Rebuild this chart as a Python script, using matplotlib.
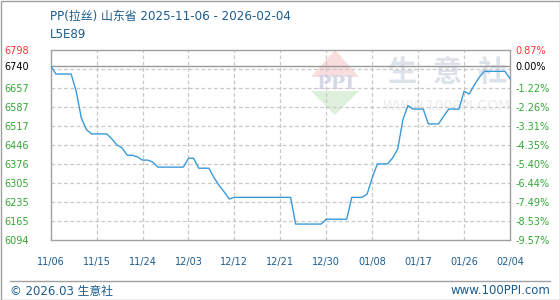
import matplotlib
matplotlib.use("Agg")
import matplotlib.pyplot as plt
import numpy as np
import pandas as pd
from matplotlib.patches import Polygon, Rectangle

# ---------------- data ----------------
start_date = "2025-11-06"
end_date = "2026-02-04"
prices = [6740, 6709, 6709, 6709, 6709, 6645, 6546, 6503, 6487, 6487,
          6487, 6487, 6468, 6446, 6435, 6408, 6408, 6402, 6390, 6390,
          6383, 6364, 6364, 6364, 6364, 6364, 6364, 6397, 6397, 6360,
          6360, 6360, 6325, 6296, 6272, 6246, 6252, 6252, 6252, 6252,
          6252, 6252, 6252, 6252, 6252, 6252, 6252, 6252, 6153, 6153,
          6153, 6153, 6153, 6153, 6171, 6171, 6171, 6171, 6171, 6252,
          6252, 6252, 6264, 6324, 6376, 6376, 6376, 6398, 6431, 6539,
          6592, 6579, 6579, 6579, 6524, 6524, 6524, 6553, 6579, 6579,
          6579, 6645, 6635, 6668, 6698, 6719, 6719, 6719, 6719, 6719,
          6692]
base_price = 6740
y_max = 6798
y_min = 6094
left_labels = ["6798", "6740", "6657", "6587", "6517", "6446", "6376",
               "6305", "6235", "6165", "6094"]
right_labels = ["0.87%", "0.00%", "-1.22%", "-2.26%", "-3.31%", "-4.35%",
                "-5.40%", "-6.44%", "-7.49%", "-8.53%", "-9.57%"]
x_tick_labels = ["11/06", "11/15", "11/24", "12/03", "12/12", "12/21",
                 "12/30", "01/08", "01/17", "01/26", "02/04"]
title = "PP(拉丝) 山东省 2025-11-06 - 2026-02-04"
subtitle = "L5E89"
footer_left = "© 2026.03 生意社"
footer_right = "www.100PPI.com"
watermark_chars = ["生", "意", "社"]
watermark_url = "WWW.100PPI.COM"

dates = pd.date_range(start_date, end_date, freq="D")
days = (dates - dates[0]).days.values
tick_dates = pd.to_datetime(["2025/" + s if s[:2] in ("11", "12") else "2026/" + s
                             for s in x_tick_labels])
tick_days = (tick_dates - dates[0]).days.values

# ---------------- figure ----------------
W, H = 560, 300
fig = plt.figure(figsize=(W / 100, H / 100), dpi=100)
fig.patch.set_facecolor("white")
FAM = ["DejaVu Sans", "Noto Sans CJK SC"]
BLUE_TXT = "#1b5c8e"
GREEN = "#33a833"
RED = "#ff3333"

L, R, T, B = 50.7, 510, 50, 240
ax = fig.add_axes([L / W, 1 - B / H, (R - L) / W, (B - T) / H])
ax.set_xlim(days[0], days[-1])
ax.set_ylim(y_min, y_max)
ax.set_facecolor("white")

def px2ax(px, py):
    return (px - L) / (R - L), (B - py) / (B - T)

# watermark
tri_top = [px2ax(311, 77), px2ax(359, 77), px2ax(335, 50)]
tri_bot = [px2ax(311, 91), px2ax(359, 91), px2ax(335, 115)]
ax.add_patch(Polygon(tri_top, closed=True, transform=ax.transAxes,
                     facecolor="#f9dcdc", edgecolor="none", zorder=0.3))
ax.add_patch(Polygon(tri_bot, closed=True, transform=ax.transAxes,
                     facecolor="#dcf0dc", edgecolor="none", zorder=0.3))
x0, y0 = px2ax(335, 84)
ax.text(x0, y0, "PPI", transform=ax.transAxes, ha="center", va="center",
        fontsize=14, color="#d3d9e6", family="DejaVu Serif", fontweight="bold",
        zorder=0.4)
for cx, ch in zip([402, 447, 492], watermark_chars):
    x0, y0 = px2ax(cx, 72)
    ax.text(x0, y0, ch, transform=ax.transAxes, ha="center", va="center",
            fontsize=21, color="#dde2ea", family=["Noto Sans CJK SC"],
            fontweight="bold", zorder=0.4)
x0, y0 = px2ax(447, 106)
ax.text(x0, y0, watermark_url, transform=ax.transAxes, ha="center", va="center",
        fontsize=10, color="#eaecf0", family="DejaVu Sans", zorder=0.4)

# grid
for g in np.linspace(y_max, y_min, 11)[1:-1]:
    ax.axhline(g, color="#c8c8c8", lw=0.9, ls=(0, (3, 2)), zorder=1)
for d in tick_days[1:-1]:
    ax.axvline(d, color="#c8c8c8", lw=0.9, ls=(0, (3, 2)), zorder=1)
ax.axhline(base_price, color="#999999", lw=1.0, zorder=1.5)

ax.plot(days, prices, color="#3a9ad9", lw=1.0, zorder=3)

for s in ax.spines.values():
    s.set_color("#a0a0a0")
    s.set_linewidth(1.0)

ax.set_xticks(tick_days)
ax.set_xticklabels(x_tick_labels)
ax.tick_params(axis="x", length=0, pad=12, labelsize=7, labelcolor=BLUE_TXT)

yticks = [float(v) for v in left_labels]
ax.set_yticks(yticks)
ax.set_yticklabels(left_labels)
ax.tick_params(axis="y", length=0, pad=33, labelsize=7)
for i, lab in enumerate(ax.get_yticklabels()):
    lab.set_ha("left")
    lab.set_color(RED if i == 0 else ("black" if i == 1 else GREEN))

ax2 = ax.twinx()
ax2.set_ylim(y_min, y_max)
ax2.set_yticks(yticks)
ax2.set_yticklabels(right_labels)
ax2.tick_params(axis="y", length=0, pad=4, labelsize=7)
for i, lab in enumerate(ax2.get_yticklabels()):
    lab.set_color(RED if i == 0 else ("black" if i == 1 else GREEN))
for s in ax2.spines.values():
    s.set_visible(False)

# titles
fig.text(50 / W, 1 - 16 / H, title, ha="left", va="center", fontsize=8.6,
         color=BLUE_TXT, family=FAM)
fig.text(50 / W, 1 - 35 / H, subtitle, ha="left", va="center", fontsize=8.6,
         color=BLUE_TXT, family=FAM)

# footer
fig.add_artist(plt.Line2D([10 / W, 550 / W], [1 - 281 / H, 1 - 281 / H],
                          color="#a0a0a0", lw=1.0))
fig.text(10 / W, 1 - 291 / H, footer_left, ha="left", va="center", fontsize=8.5,
         color=BLUE_TXT, family=FAM)
fig.text(550 / W, 1 - 291 / H, footer_right, ha="right", va="center", fontsize=8.5,
         color=BLUE_TXT, family=FAM)

# outer border
fig.add_artist(Rectangle((0.5 / W, 0.5 / H), (W - 1) / W, (H - 1) / H,
                         transform=fig.transFigure, fill=False,
                         edgecolor="#a0a0a0", lw=1.0))

fig.savefig("out.png", dpi=100)
